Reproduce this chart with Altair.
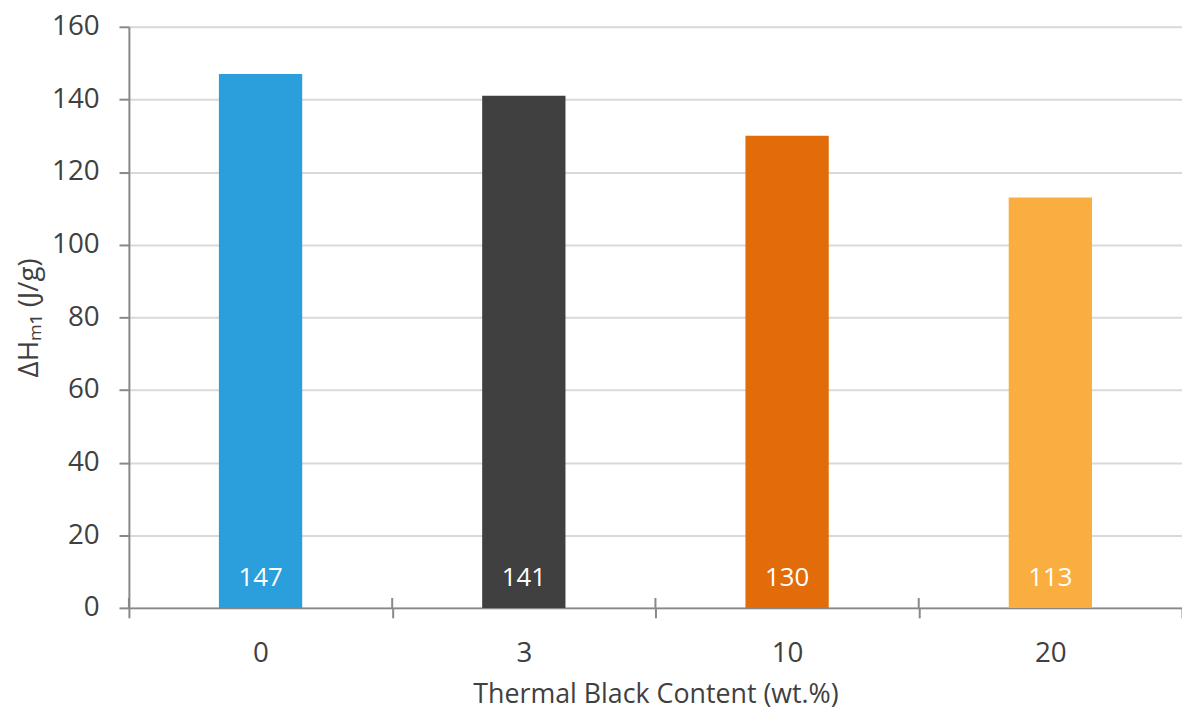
import altair as alt
import pandas as pd

# Melting enthalpy of the first heating run vs. thermal black loading
content = ["0", "3", "10", "20"]
enthalpy = [147, 141, 130, 113]
colors = ["#2A9FDC", "#404040", "#E36C0A", "#FBAE40"]

df = pd.DataFrame({"content": content, "enthalpy": enthalpy, "color": colors})

FONT = "Open Sans"
TEXT = "#404040"
LINE = "#888888"
H = 586

x_scale = alt.Scale(paddingInner=0, paddingOuter=0)
y_scale = alt.Scale(domain=[0, 160], nice=False)

x = alt.X(
    "content:N",
    sort=content,
    title="Thermal Black Content (wt.%)",
    scale=x_scale,
    axis=alt.Axis(
        labelAngle=0,
        labelFontSize=28,
        labelColor=TEXT,
        labelFont=FONT,
        labelPadding=22,
        titleFontSize=27,
        titleColor=TEXT,
        titleFont=FONT,
        titleFontWeight="normal",
        titlePadding=14,
        tickBand="extent",
        tickSize=10,
        tickColor=LINE,
        tickWidth=2,
        domainColor=LINE,
        domainWidth=2,
        grid=False,
    ),
)

bars = alt.Chart(df).mark_bar(size=84).encode(
    x=x,
    y=alt.Y(
        "enthalpy:Q",
        scale=y_scale,
        title="ΔHₘ₁ (J/g)",
        axis=alt.Axis(
            values=[0, 20, 40, 60, 80, 100, 120, 140, 160],
            labelFontSize=28,
            labelColor=TEXT,
            labelFont=FONT,
            labelPadding=20,
            titleFontSize=28,
            titleColor=TEXT,
            titleFont=FONT,
            titleFontWeight="normal",
            titlePadding=8,
            tickSize=10,
            tickColor=LINE,
            tickWidth=2,
            domainColor=LINE,
            domainWidth=2,
            gridColor="#D9D9D9",
            gridWidth=2,
        ),
    ),
    color=alt.Color("color:N", scale=None),
)

# upper half of the category ticks, so they cross the baseline
tick_up = alt.Chart(df).mark_rule(color=LINE, strokeWidth=2).encode(
    x=alt.X("content:N", sort=content, bandPosition=0),
    y=alt.value(H - 10),
    y2=alt.value(H),
)

labels = alt.Chart(df).mark_text(
    color="white", fontSize=26, font=FONT, baseline="alphabetic", dy=-22
).encode(
    x=alt.X("content:N", sort=content),
    y=alt.Y("zero:Q", scale=y_scale),
    text=alt.Text("enthalpy:Q"),
).transform_calculate(zero="0")

chart = (
    alt.layer(bars, tick_up, labels)
    .properties(
        width=1062,
        height=H,
        padding={"left": 130, "top": 24, "right": 0, "bottom": 104},
        autosize=alt.AutoSizeParams(type="none"),
    )
    .configure_view(stroke=None)
    .configure(background="white")
)

chart.save("out.html", embed_options={"renderer": "svg", "actions": False})
